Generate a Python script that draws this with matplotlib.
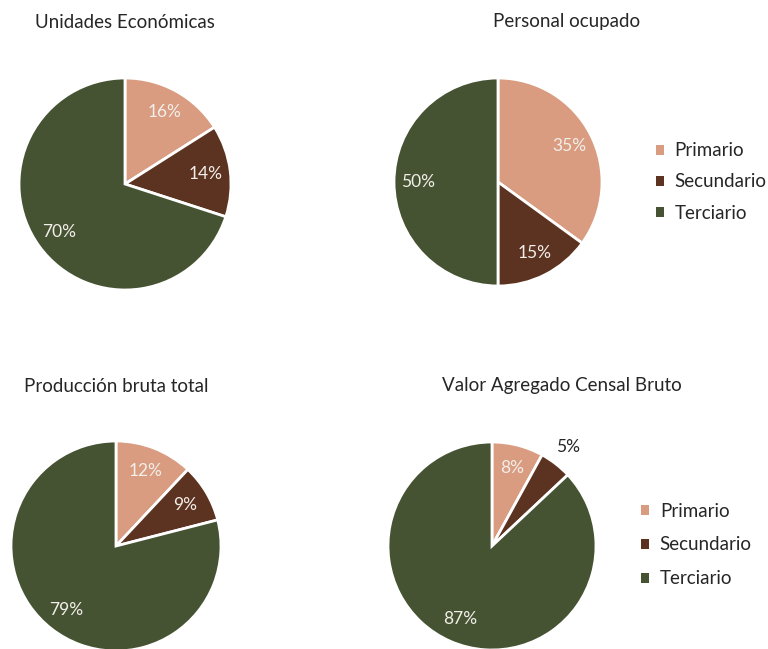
import matplotlib
matplotlib.use("Agg")
from matplotlib import pyplot as plt
from matplotlib.patches import Patch
import numpy as np

plt.rcParams['font.family'] = ['Lato', 'DejaVu Sans']

SECTORES = ['Primario', 'Secundario', 'Terciario']
COLORES = ['#D99C80', '#5C3220', '#465333']

TITULOS = ['Unidades Económicas', 'Personal ocupado',
           'Producción bruta total', 'Valor Agregado Censal Bruto']
unidades = [16, 14, 70]
personal = [35, 15, 50]
produccion = [12, 9, 79]
valor_agregado = [8, 5, 87]

W, H = 768, 649
fig = plt.figure(figsize=(W / 100, H / 100), dpi=100)

# (centro x, centro y, radio) in pixels, title position
layout = [
    (125, 184, 106, (125, 22)),
    (498, 182, 104, (567, 22)),
    (116, 546, 105, (116, 386)),
    (492, 546, 104, (562, 386)),
]
datos = [unidades, personal, produccion, valor_agregado]

for valores, titulo, (cx, cy, r, (tx, ty)) in zip(datos, TITULOS, layout):
    s = 1.25 * r
    ax = fig.add_axes([(cx - s) / W, (H - cy - s) / H, 2 * s / W, 2 * s / H])
    wedges, texts, autotexts = ax.pie(
        valores, colors=COLORES, startangle=90, counterclock=False,
        autopct='%d%%', pctdistance=0.77,
        wedgeprops=dict(edgecolor='white', linewidth=2),
        textprops=dict(color='#F2EEE9', fontsize=12.5))
    for w, t, v in zip(wedges, autotexts, valores):
        if v < 7:
            ang = np.deg2rad((w.theta1 + w.theta2) / 2)
            t.set_position((1.2 * np.cos(ang), 1.2 * np.sin(ang)))
            t.set_color('#262626')
    ax.set_xlim(-1.25, 1.25)
    ax.set_ylim(-1.25, 1.25)
    fig.text(tx / W, 1 - ty / H, titulo, ha='center', va='center',
             fontsize=13.5, color='#262626')

handles = [Patch(facecolor=c, edgecolor='none', label=l) for c, l in zip(COLORES, SECTORES)]
for (lx, ly, sp) in [(656, 182, 0.75), (641, 545, 0.9)]:
    fig.legend(handles=handles, loc='center left', bbox_to_anchor=(lx / W, 1 - ly / H),
               frameon=False, fontsize=13.5, handlelength=0.45, handleheight=0.45,
               handletextpad=0.55, labelspacing=sp, labelcolor='#262626',
               borderpad=0, borderaxespad=0)

fig.savefig('out.png', dpi=100)
